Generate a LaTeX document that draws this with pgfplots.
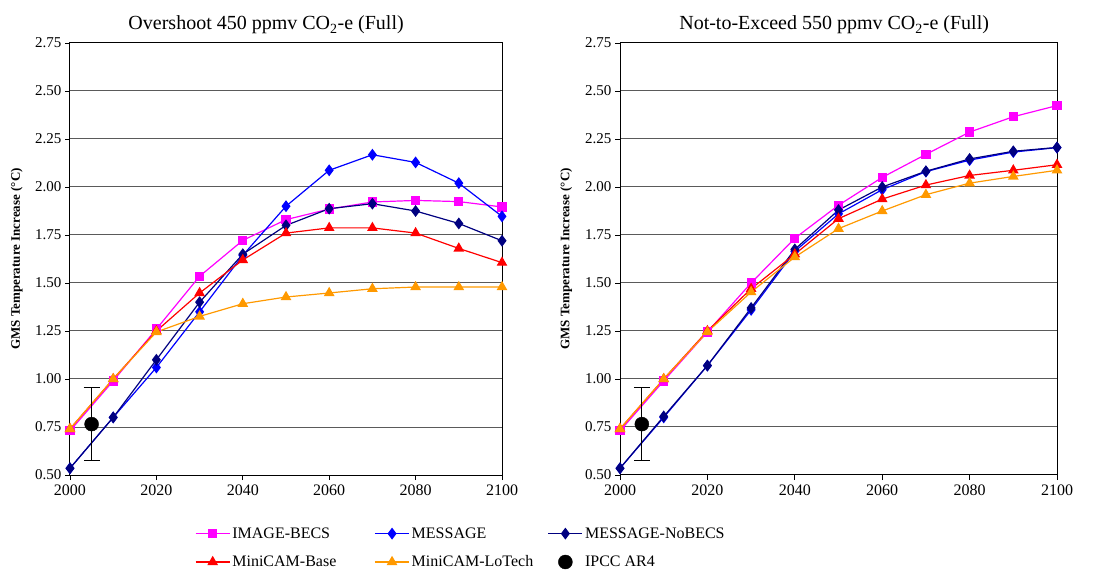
\documentclass[border=0pt]{standalone}
\usepackage{fontspec}
\setmainfont{Liberation Serif}
\usepackage{pgfplots}
\pgfplotsset{compat=1.18}
\definecolor{cImage}{RGB}{255,0,255}
\definecolor{cMsg}{RGB}{0,0,255}
\definecolor{cNob}{RGB}{0,0,128}
\definecolor{cBase}{RGB}{255,0,0}
\definecolor{cLo}{RGB}{255,153,0}
\definecolor{cGrid}{RGB}{90,90,90}
\pgfplotsset{
  myaxis/.style={
    scale only axis, height=432pt,
    xmin=2000, xmax=2100, ymin=0.5, ymax=2.75,
    xtick={2000,2020,2040,2060,2080,2100},
    ytick={0.5,0.75,1,1.25,1.5,1.75,2,2.25,2.5,2.75},
    ymajorgrids, grid style={cGrid, line width=1pt},
    axis line style={black, line width=1pt},
    tick style={black, line width=0.8pt},
    tick align=outside, xtick pos=bottom, ytick pos=left,
    major tick length=5pt,
    /pgf/number format/assume math mode=true,
    /pgf/number format/set thousands separator={},
    yticklabel style={font=\fontsize{15}{15}\selectfont, /pgf/number format/fixed, /pgf/number format/fixed zerofill, /pgf/number format/precision=2},
    xticklabel style={font=\fontsize{16}{16}\selectfont, yshift=-1pt, /pgf/number format/fixed, /pgf/number format/precision=0},
    ylabel={\bfseries GMS Temperature Increase (°C)},
    ylabel style={font=\fontsize{13}{13}\selectfont, at={(axis description cs:-0.123,0.5)}, anchor=center},
    title style={font=\fontsize{20}{20}\selectfont, anchor=base, yshift=7pt},
    legend image code/.code={\draw[mark repeat=2,mark phase=2] plot coordinates {(0cm,0cm) (0.6cm,0cm) (1.2cm,0cm)};},
  },
  sImage/.style={color=cImage, line width=1.2pt, mark=square*, mark size=4pt, mark options={solid}},
  sMsg/.style={color=cMsg, line width=1.2pt, mark=diamond*, mark size=5pt, mark options={solid}},
  sNob/.style={color=cNob, line width=1.2pt, mark=diamond*, mark size=5pt, mark options={solid}},
  sBase/.style={color=cBase, line width=1.2pt, mark=triangle*, mark size=5pt, mark options={solid}},
  sLo/.style={color=cLo, line width=1.2pt, mark=triangle*, mark size=5pt, mark options={solid}},
}
\begin{document}
\begin{tikzpicture}
\path[use as bounding box] (0,0) rectangle (1105pt,570pt);
% ---------------- Left panel ----------------
\begin{axis}[myaxis, at={(70pt,95pt)}, anchor=south west, width=432pt,
  title={Overshoot 450 ppmv CO\textsubscript{2}-e (Full)},
  title style={at={(axis description cs:0.454,1)}},
  legend columns=3,
  legend style={draw=none, fill=none, font=\fontsize{16}{16}\selectfont,
    at={(axis description cs:0.282,-0.112)}, anchor=north west,
    cells={anchor=west}, row sep=12pt},
]
\addplot[sImage] coordinates {(2000,0.73) (2010,0.99) (2020,1.26) (2030,1.535) (2040,1.722) (2050,1.83) (2060,1.885) (2070,1.922) (2080,1.93) (2090,1.924) (2100,1.896)};
\addlegendentry{\makebox[140pt][l]{IMAGE-BECS}}
\addplot[sMsg] coordinates {(2000,0.535) (2010,0.80) (2020,1.06) (2030,1.35) (2040,1.644) (2050,1.90) (2060,2.087) (2070,2.168) (2080,2.128) (2090,2.02) (2100,1.847)};
\addlegendentry{\makebox[134pt][l]{MESSAGE}}
\addplot[sNob] coordinates {(2000,0.535) (2010,0.80) (2020,1.10) (2030,1.40) (2040,1.65) (2050,1.80) (2060,1.887) (2070,1.913) (2080,1.875) (2090,1.81) (2100,1.72)};
\addlegendentry{MESSAGE-NoBECS}
\addplot[sBase] coordinates {(2000,0.74) (2010,1.00) (2020,1.25) (2030,1.448) (2040,1.62) (2050,1.76) (2060,1.787) (2070,1.787) (2080,1.76) (2090,1.68) (2100,1.606)};
\addlegendentry{\makebox[140pt][l]{MiniCAM-Base}}
\addplot[sLo] coordinates {(2000,0.74) (2010,1.00) (2020,1.245) (2030,1.326) (2040,1.392) (2050,1.427) (2060,1.448) (2070,1.47) (2080,1.479) (2090,1.479) (2100,1.479)};
\addlegendentry{\makebox[134pt][l]{MiniCAM-LoTech}}
\addplot[black, only marks, mark=*, mark size=7pt,
  error bars/.cd, y dir=both, y explicit,
  error bar style={black, line width=1pt},
  error mark options={rotate=90, mark size=8pt, black, line width=1pt}]
  coordinates {(2005,0.765) +- (0,0.19)};
\addlegendentry{IPCC AR4}
\end{axis}
% ---------------- Right panel ----------------
\begin{axis}[myaxis, at={(620pt,95pt)}, anchor=south west, width=437pt,
  title={Not-to-Exceed 550 ppmv CO\textsubscript{2}-e (Full)},
  title style={at={(axis description cs:0.49,1)}},
]
\addplot[sImage] coordinates {(2000,0.73) (2010,0.99) (2020,1.245) (2030,1.50) (2040,1.733) (2050,1.905) (2060,2.05) (2070,2.17) (2080,2.286) (2090,2.366) (2100,2.424)};
\addplot[sMsg] coordinates {(2000,0.535) (2010,0.80) (2020,1.07) (2030,1.36) (2040,1.665) (2050,1.86) (2060,1.986) (2070,2.08) (2080,2.14) (2090,2.182) (2100,2.205)};
\addplot[sNob] coordinates {(2000,0.535) (2010,0.805) (2020,1.07) (2030,1.37) (2040,1.675) (2050,1.88) (2060,2.00) (2070,2.082) (2080,2.146) (2090,2.186) (2100,2.206)};
\addplot[sBase] coordinates {(2000,0.74) (2010,1.00) (2020,1.25) (2030,1.47) (2040,1.65) (2050,1.835) (2060,1.937) (2070,2.01) (2080,2.06) (2090,2.087) (2100,2.116)};
\addplot[sLo] coordinates {(2000,0.74) (2010,1.00) (2020,1.245) (2030,1.453) (2040,1.635) (2050,1.783) (2060,1.875) (2070,1.96) (2080,2.02) (2090,2.055) (2100,2.087)};
\addplot[black, only marks, mark=*, mark size=7pt,
  error bars/.cd, y dir=both, y explicit,
  error bar style={black, line width=1pt},
  error mark options={rotate=90, mark size=8pt, black, line width=1pt}]
  coordinates {(2005,0.765) +- (0,0.19)};
\end{axis}
\end{tikzpicture}
\end{document}
